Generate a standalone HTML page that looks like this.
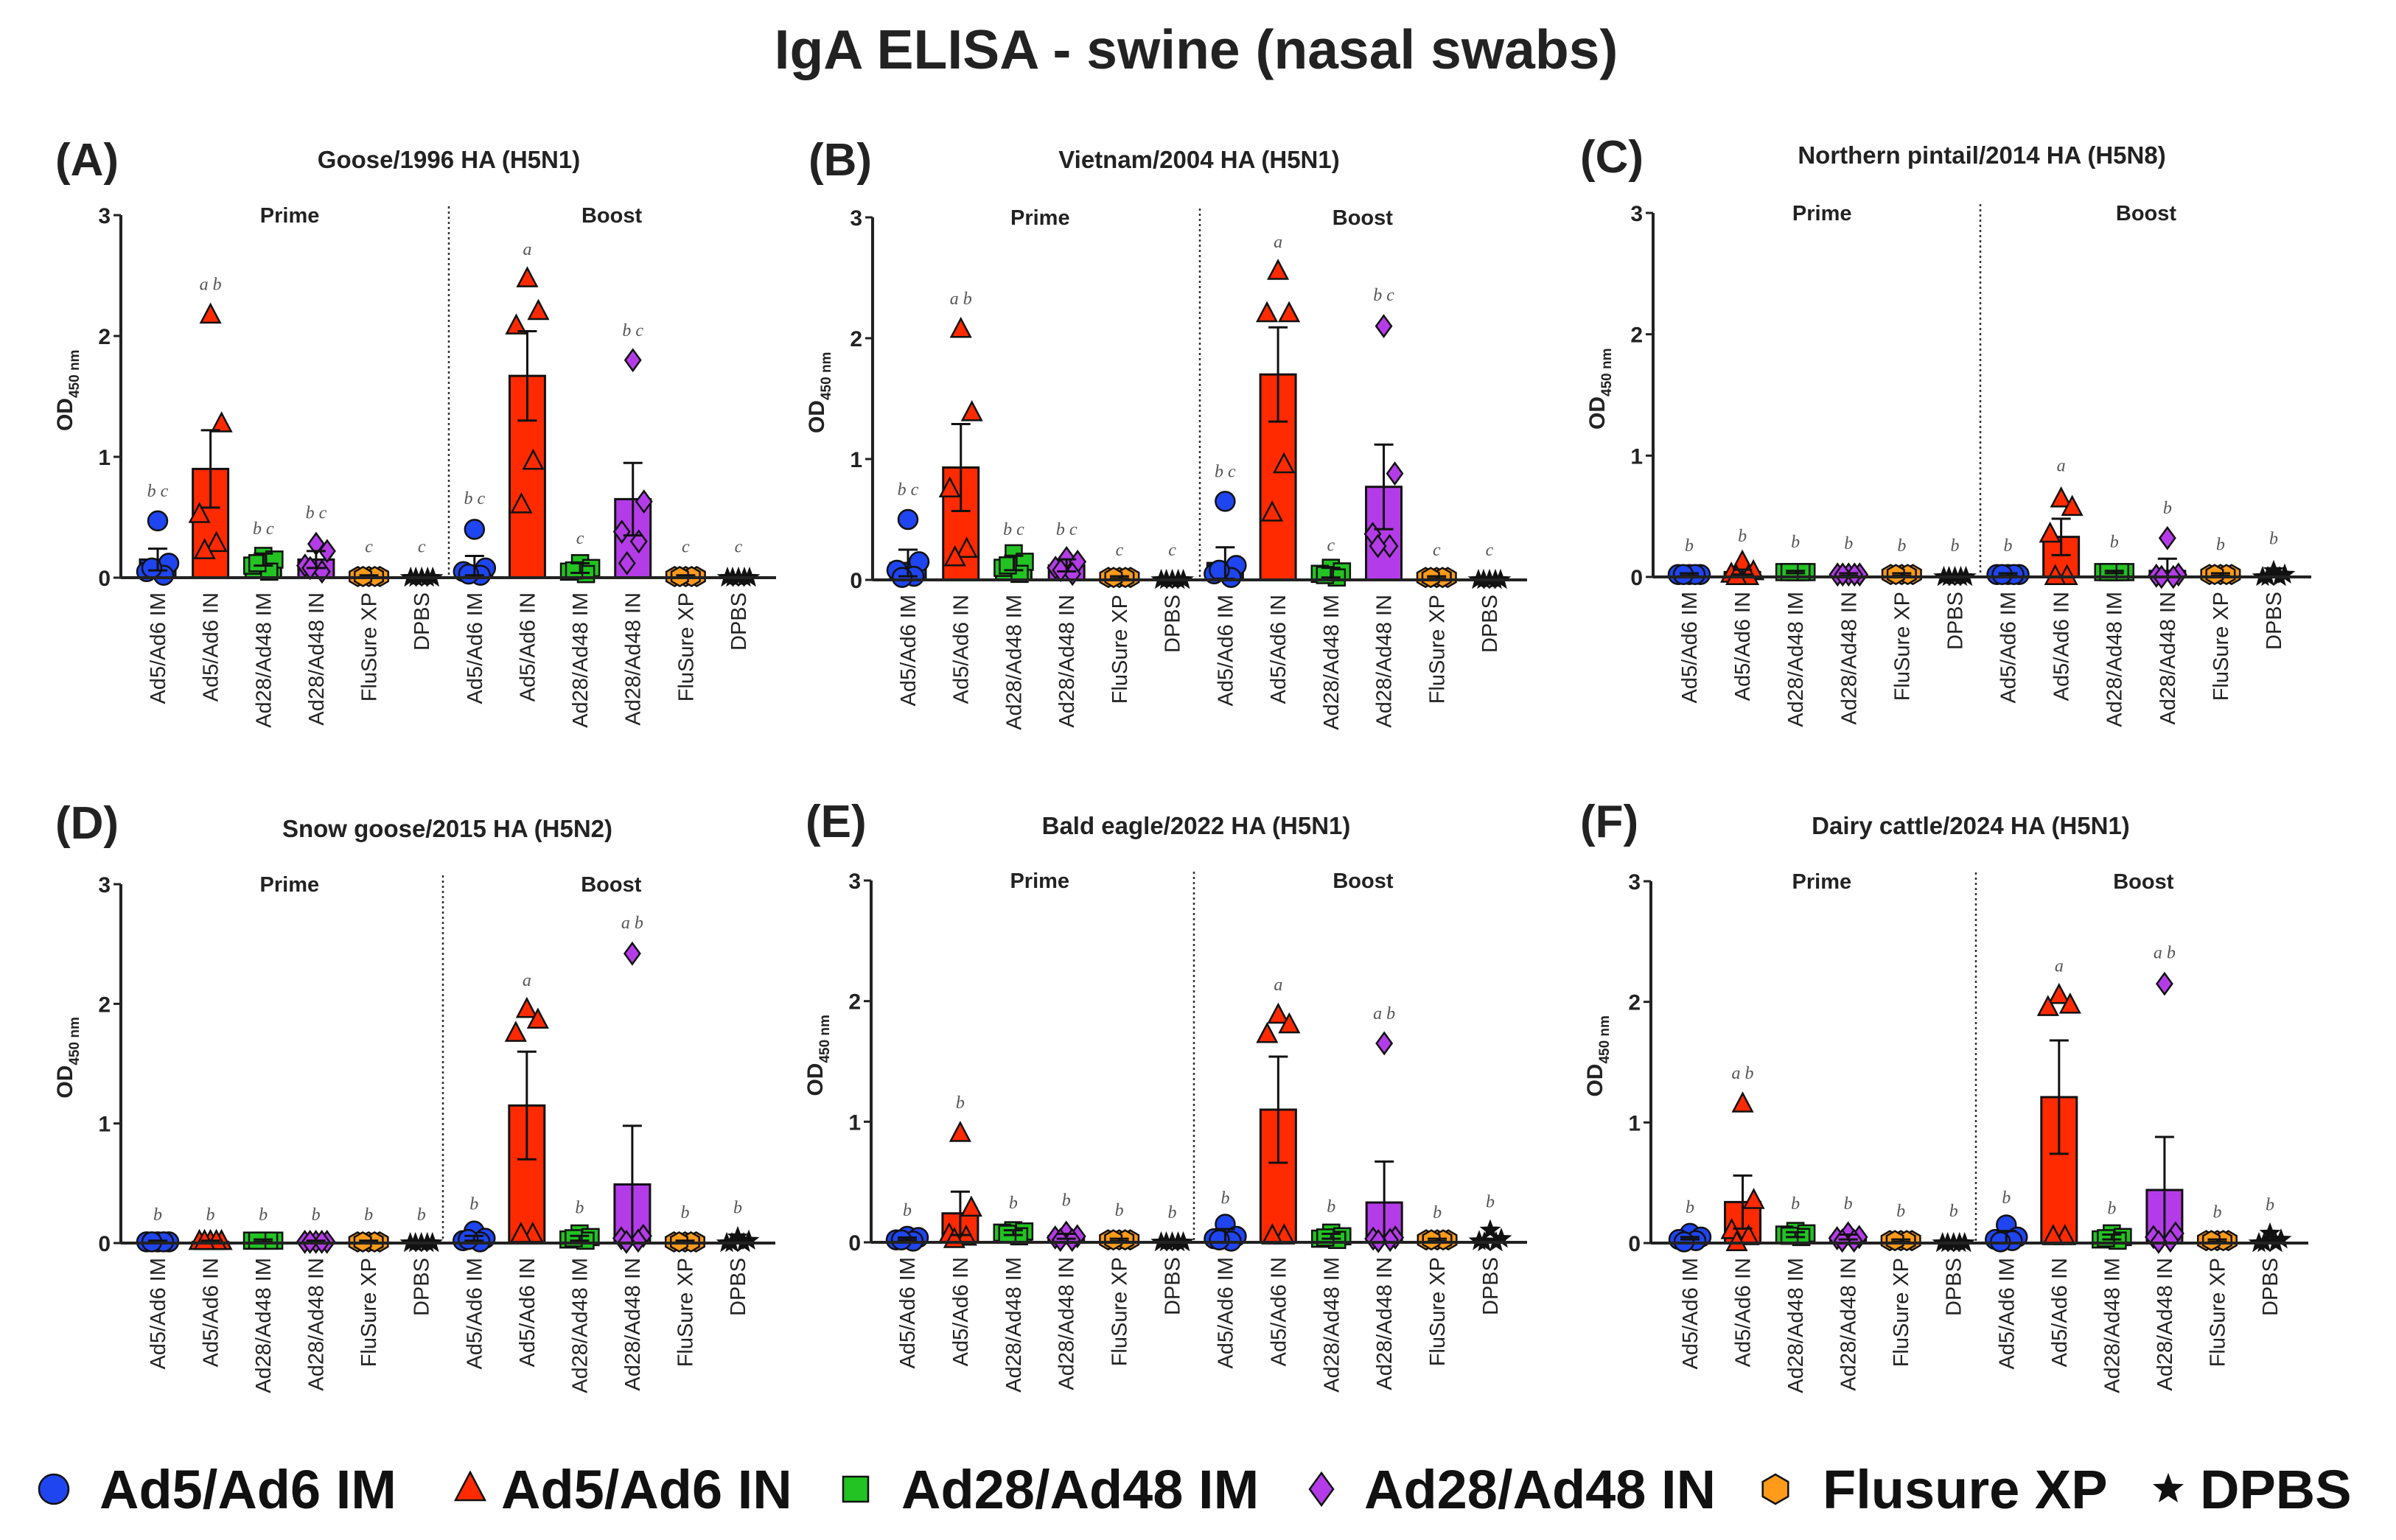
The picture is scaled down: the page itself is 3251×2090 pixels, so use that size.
<!DOCTYPE html>
<html><head><meta charset="utf-8"><style>
html,body{margin:0;padding:0;background:#fff;}
svg{display:block;font-family:"Liberation Sans",sans-serif;}
</style></head><body>
<svg id="fig" width="3251" height="2090" viewBox="0 0 3251 2090" xmlns="http://www.w3.org/2000/svg">
<text x="1623" y="93" text-anchor="middle" font-size="75" font-weight="bold" fill="#222">IgA ELISA - swine (nasal swabs)</text>
<g id="legend"></g>
</svg>
<script>
const categories = ["Ad5/Ad6 IM","Ad5/Ad6 IN","Ad28/Ad48 IM","Ad28/Ad48 IN","FluSure XP","DPBS","Ad5/Ad6 IM","Ad5/Ad6 IN","Ad28/Ad48 IM","Ad28/Ad48 IN","FluSure XP","DPBS"];
const yTicks = [0,1,2,3];
const legendLabels = ["Ad5/Ad6 IM","Ad5/Ad6 IN","Ad28/Ad48 IM","Ad28/Ad48 IN","Flusure XP","DPBS"];

const aBars = [0.15,0.9,0.15,0.15,0.01,0,0.1,1.67,0.08,0.65,0.01,0];
const aSem = [0.09,0.32,0.05,0.07,0.01,0,0.08,0.37,0.04,0.3,0.01,0];
const aPts = [[0.47,0.12,0.05,0.02,0.08],[2.17,1.27,0.52,0.28,0.22],[0.18,0.15,0.1,0.05,0.12],[0.28,0.22,0.1,0.05,0.08],[0.01,0.01,0.01,0.01,0.01],[0,0,0,0,0],[0.4,0.08,0.05,0.02,0.03],[2.47,2.2,2.08,0.96,0.6],[0.12,0.08,0.05,0.03,0.06],[1.8,0.63,0.38,0.3,0.12],[0.01,0.01,0.01,0.01,0.01],[0,0,0,0,0]];
const aLetters = ["b c","a b","b c","b c","c","c","b c","a","c","b c","c","c"];
const aLetterY = [0.72,2.43,0.41,0.54,0.26,0.26,0.66,2.72,0.33,2.05,0.26,0.26];

const bBars = [0.14,0.93,0.14,0.12,0.02,0,0.14,1.7,0.06,0.77,0.02,0];
const bSem = [0.11,0.36,0.06,0.05,0.01,0,0.13,0.39,0.04,0.35,0.01,0];
const bPts = [[0.5,0.15,0.08,0.03,0.02],[2.07,1.38,0.75,0.25,0.18],[0.22,0.15,0.1,0.05,0.12],[0.18,0.15,0.1,0.05,0.08],[0.02,0.02,0.02,0.02,0.02],[0,0,0,0,0],[0.65,0.12,0.05,0.02,0.08],[2.55,2.2,2.2,0.95,0.55],[0.1,0.07,0.05,0.02,0.04],[2.1,0.88,0.38,0.28,0.28],[0.02,0.02,0.02,0.02,0.02],[0,0,0,0,0]];
const bLetters = ["b c","a b","b c","b c","c","c","b c","a","c","b c","c","c"];
const bLetterY = [0.75,2.33,0.42,0.42,0.25,0.25,0.9,2.8,0.29,2.36,0.25,0.25];

const cBars = [0.02,0.04,0.04,0.02,0.02,0,0.02,0.33,0.04,0.05,0.02,0.01];
const cSem = [0.01,0.02,0.01,0.01,0.01,0,0.01,0.15,0.01,0.1,0.01,0.01];
const cPts = [[0.02,0.02,0.02,0.02,0.02],[0.12,0.04,0.02,0,0],[0.04,0.04,0.04,0.04,0.04],[0.02,0.02,0.02,0.02,0.02],[0.02,0.02,0.02,0.02,0.02],[0,0,0,0,0],[0.02,0.02,0.02,0.02,0.02],[0.64,0.57,0.35,0,0],[0.04,0.04,0.04,0.04,0.04],[0.32,0.02,0.01,0,0],[0.02,0.02,0.02,0.02,0.02],[0.05,0.02,0,0,0]];
const cLetters = ["b","b","b","b","b","b","b","a","b","b","b","b"];
const cLetterY = [0.26,0.34,0.29,0.28,0.26,0.26,0.26,0.92,0.29,0.57,0.27,0.32];

const dBars = [0.01,0.01,0.02,0.01,0.01,0,0.04,1.15,0.04,0.49,0.01,0.01];
const dSem = [0.01,0.01,0.01,0.01,0.01,0,0.02,0.45,0.02,0.49,0.01,0.01];
const dPts = [[0.01,0.01,0.01,0.01,0.01],[0.01,0.01,0.01,0.01,0.01],[0.02,0.02,0.02,0.02,0.02],[0.01,0.01,0.01,0.01,0.01],[0.01,0.01,0.01,0.01,0.01],[0,0,0,0,0],[0.1,0.04,0.02,0.01,0.03],[1.95,1.86,1.75,0.07,0.07],[0.08,0.05,0.03,0.02,0.04],[2.42,0.06,0.04,0.02,0.01],[0.01,0.01,0.01,0.01,0.01],[0.05,0.02,0,0,0]];
const dLetters = ["b","b","b","b","b","b","b","a","b","a b","b","b"];
const dLetterY = [0.24,0.24,0.24,0.24,0.24,0.24,0.33,2.2,0.3,2.68,0.26,0.3];

const eBars = [0.03,0.24,0.08,0.05,0.02,0,0.05,1.1,0.05,0.33,0.02,0.01];
const eSem = [0.01,0.18,0.02,0.02,0.01,0,0.06,0.44,0.02,0.34,0.01,0.02];
const ePts = [[0.05,0.04,0.02,0.01,0.02],[0.9,0.28,0.06,0.04,0.02],[0.1,0.09,0.08,0.05,0.07],[0.08,0.05,0.04,0.02,0.02],[0.02,0.02,0.02,0.02,0.02],[0,0,0,0,0],[0.15,0.05,0.03,0.01,0.02],[1.88,1.8,1.72,0.05,0.05],[0.08,0.05,0.03,0.02,0.04],[1.65,0.04,0.03,0.02,0.01],[0.02,0.02,0.02,0.02,0.02],[0.1,0.03,0.01,0,0]];
const eLetters = ["b","b","b","b","b","b","b","a","b","a b","b","b"];
const eLetterY = [0.27,1.16,0.33,0.35,0.27,0.25,0.37,2.14,0.3,1.9,0.25,0.34];

const fBars = [0.04,0.34,0.07,0.05,0.02,0,0.05,1.21,0.05,0.44,0.02,0.01];
const fSem = [0.01,0.22,0.02,0.02,0.01,0,0.05,0.47,0.02,0.44,0.01,0.02];
const fPts = [[0.08,0.05,0.03,0.02,0.01],[1.15,0.35,0.1,0.05,0],[0.1,0.08,0.07,0.05,0.06],[0.08,0.05,0.04,0.02,0.02],[0.02,0.02,0.02,0.02,0.02],[0,0,0,0,0],[0.15,0.05,0.03,0.02,0.01],[2.05,1.97,1.95,0.05,0.05],[0.08,0.05,0.03,0.02,0.04],[2.15,0.08,0.05,0.02,0.01],[0.02,0.02,0.02,0.02,0.02],[0.08,0.03,0,0,0]];
const fLetters = ["b","a b","b","b","b","b","b","a","b","a b","b","b"];
const fLetterY = [0.3,1.41,0.33,0.33,0.27,0.27,0.38,2.3,0.29,2.41,0.26,0.32];

const panelTitles = ["Goose/1996 HA (H5N1)","Vietnam/2004 HA (H5N1)","Northern pintail/2014 HA (H5N8)","Snow goose/2015 HA (H5N2)","Bald eagle/2022 HA (H5N1)","Dairy cattle/2024 HA (H5N1)"];
const panelLetters = ["(A)","(B)","(C)","(D)","(E)","(F)"];

const NS = "http://www.w3.org/2000/svg";
const svg = document.getElementById('fig');
const COLORS = ["#1f45f0","#ff2a00","#22c322","#b43ce8","#ff9a1a","#111111"];
const JIT = [0,15,-15,8,-8];

function mk(tag, attrs, parent){
  const e = document.createElementNS(NS, tag);
  for (const k in attrs) e.setAttribute(k, attrs[k]);
  parent.appendChild(e);
  return e;
}
function marker(kind, x, y, r, parent){
  const col = COLORS[kind];
  let e;
  if (kind===0) e = mk('circle',{cx:x,cy:y,r:r,fill:col,stroke:'#111','stroke-width':2.5},parent);
  else if (kind===1) e = mk('polygon',{points:`${x},${y-r*1.15} ${x+r},${y+r*0.75} ${x-r},${y+r*0.75}`,fill:col,stroke:'#111','stroke-width':2.5},parent);
  else if (kind===2) e = mk('rect',{x:x-r*0.85,y:y-r*0.85,width:r*1.7,height:r*1.7,fill:col,stroke:'#111','stroke-width':2.5},parent);
  else if (kind===3) e = mk('polygon',{points:`${x},${y-r*1.1} ${x+r*0.8},${y} ${x},${y+r*1.1} ${x-r*0.8},${y}`,fill:col,stroke:'#111','stroke-width':2.5},parent);
  else if (kind===4){ let p=[]; for(let i=0;i<6;i++){const a=Math.PI/6+i*Math.PI/3; p.push((x+r*Math.cos(a)).toFixed(1)+','+(y+r*Math.sin(a)).toFixed(1));} e = mk('polygon',{points:p.join(' '),fill:col,stroke:'#111','stroke-width':2.5},parent); }
  else { let p=[]; for(let i=0;i<10;i++){const a=-Math.PI/2+i*Math.PI/5; const rr=i%2?r*0.42:r; p.push((x+rr*Math.cos(a)).toFixed(1)+','+(y+rr*Math.sin(a)).toFixed(1));} e = mk('polygon',{points:p.join(' '),fill:col,stroke:'#111','stroke-width':1.5},parent); }
  return e;
}

const layouts = [
 {ax:164,y3:292,y0:784,xEnd:1053,c0:214,c11:1002,div:609,tx:609,ty:228,lx:75,ly:238},
 {ax:1184,y3:295,y0:787,xEnd:2072,c0:1232,c11:2021,div:1628,tx:1627,ty:228,lx:1097,ly:238},
 {ax:2243,y3:289,y0:783,xEnd:3136,c0:2292,c11:3085,div:2687,tx:2689,ty:222,lx:2144,ly:234},
 {ax:164,y3:1200,y0:1687,xEnd:1052,c0:214,c11:1001,div:601,tx:607,ty:1136,lx:75,ly:1138},
 {ax:1182,y3:1195,y0:1686,xEnd:2072,c0:1231,c11:2022,div:1620,tx:1623,ty:1132,lx:1093,ly:1136},
 {ax:2240,y3:1196,y0:1687,xEnd:3132,c0:2293,c11:3080,div:2681,tx:2674,ty:1132,lx:2144,ly:1136}
];
const panelData = [
 [aBars,aSem,aPts,aLetters,aLetterY],
 [bBars,bSem,bPts,bLetters,bLetterY],
 [cBars,cSem,cPts,cLetters,cLetterY],
 [dBars,dSem,dPts,dLetters,dLetterY],
 [eBars,eSem,ePts,eLetters,eLetterY],
 [fBars,fSem,fPts,fLetters,fLetterY]
];

panelData.forEach((pd, pi) => {
  const L = layouts[pi];
  const [bars, sem, pts, letters, letterY] = pd;
  const g = mk('g', {}, svg);
  
  
  const yS = v => L.y0 - (L.y0 - L.y3) * v / 3;
  const step = (L.c11 - L.c0) / 11;
  const xS = i => L.c0 + i * step;

  const pl = mk('text',{x:L.lx,y:L.ly,'font-size':62,'font-weight':'bold',fill:'#222'},g);
  pl.textContent = panelLetters[pi];
  
  
  const tt = mk('text',{x:L.tx,y:L.ty,'text-anchor':'middle','font-size':33,'font-weight':'bold',fill:'#222'},g);
  tt.textContent = panelTitles[pi];
  
  

  const pr = mk('text',{x:xS(2.5),y:L.y3+10,'text-anchor':'middle','font-size':29,'font-weight':'bold',fill:'#222'},g);
  pr.textContent = 'Prime';
  
  
  const bo = mk('text',{x:xS(8.6),y:L.y3+10,'text-anchor':'middle','font-size':29,'font-weight':'bold',fill:'#222'},g);
  bo.textContent = 'Boost';
  
  

  const dv = mk('line',{x1:L.div,x2:L.div,y1:L.y3-12,y2:L.y0,stroke:'#333','stroke-width':2.5,'stroke-dasharray':'3,4'},g);
  
  

  const ya = mk('line',{x1:L.ax,x2:L.ax,y1:L.y3,y2:L.y0,stroke:'#222','stroke-width':4},g);
  
  
  yTicks.forEach(t => {
    const tk = mk('line',{x1:L.ax-10,x2:L.ax,y1:yS(t),y2:yS(t),stroke:'#222','stroke-width':3},g);
    
    
    const tl = mk('text',{x:L.ax-14,y:yS(t)+11,'text-anchor':'end','font-size':30,'font-weight':'bold',fill:'#222'},g);
    tl.textContent = t;
    
    
  });
  const yt = mk('text',{x:0,y:0,'text-anchor':'middle','font-size':30,'font-weight':'bold',fill:'#222',transform:`translate(${L.ax-66},${yS(1.55)}) rotate(-90)`},g);
  yt.innerHTML = 'OD<tspan font-size="19" dy="9">450 nm</tspan>';
  
  

  bars.forEach((v, i) => {
    const kind = i % 6;
    if (kind === 1 || kind === 3 || v > 0.03) {
      const b = mk('rect',{x:xS(i)-24,y:yS(v),width:48,height:L.y0-yS(v),fill:COLORS[kind],stroke:'#111','stroke-width':3},g);
      
      
    }
  });
  pts.forEach((arr, i) => {
    const kind = i % 6;
    arr.forEach((v, j) => {
      const m = marker(kind, xS(i) + JIT[j], yS(v), 13, g);
      
      
    });
  });
  bars.forEach((v, i) => {
    const s = sem[i];
    if (s <= 0) return;
    const lo = Math.max(0, v - s), hi = v + s;
    const eg = mk('g',{stroke:'#111','stroke-width':3},g);
    
    
    mk('line',{x1:xS(i),x2:xS(i),y1:yS(lo),y2:yS(hi)},eg);
    mk('line',{x1:xS(i)-13,x2:xS(i)+13,y1:yS(hi),y2:yS(hi)},eg);
    mk('line',{x1:xS(i)-13,x2:xS(i)+13,y1:yS(lo),y2:yS(lo)},eg);
  });
  const xa = mk('line',{x1:L.ax,x2:L.xEnd,y1:L.y0,y2:L.y0,stroke:'#222','stroke-width':4},g);
  
  
  letters.forEach((t, i) => {
    const lt = mk('text',{x:xS(i),y:yS(letterY[i])+8,'text-anchor':'middle','font-size':24,'font-style':'italic','font-family':'Liberation Serif, serif',fill:'#555'},g);
    lt.textContent = t;
    
    
  });
  categories.forEach((c, i) => {
    const yy = L.y0 + 20;
    const xl = mk('text',{x:xS(i)+10,y:yy,'text-anchor':'end','font-size':29,fill:'#222',transform:`rotate(-90 ${xS(i)+10} ${yy})`},g);
    xl.textContent = c;
    
    
  });
});

const lg = document.getElementById('legend');
const legPos = [[73,135],[638,680],[1161,1223],[1793,1851],[2409,2473],[2942,2985]];
legendLabels.forEach((t, i) => {
  const it = mk('g', {}, lg);
  
  
  const m = marker(i, legPos[i][0], 2021, 20, it);
  
  
  const tx = mk('text',{x:legPos[i][1],y:2047,'font-size':74,'font-weight':'bold',fill:'#111'},it);
  tx.textContent = t;
  
  
});
</script>
</body></html>
